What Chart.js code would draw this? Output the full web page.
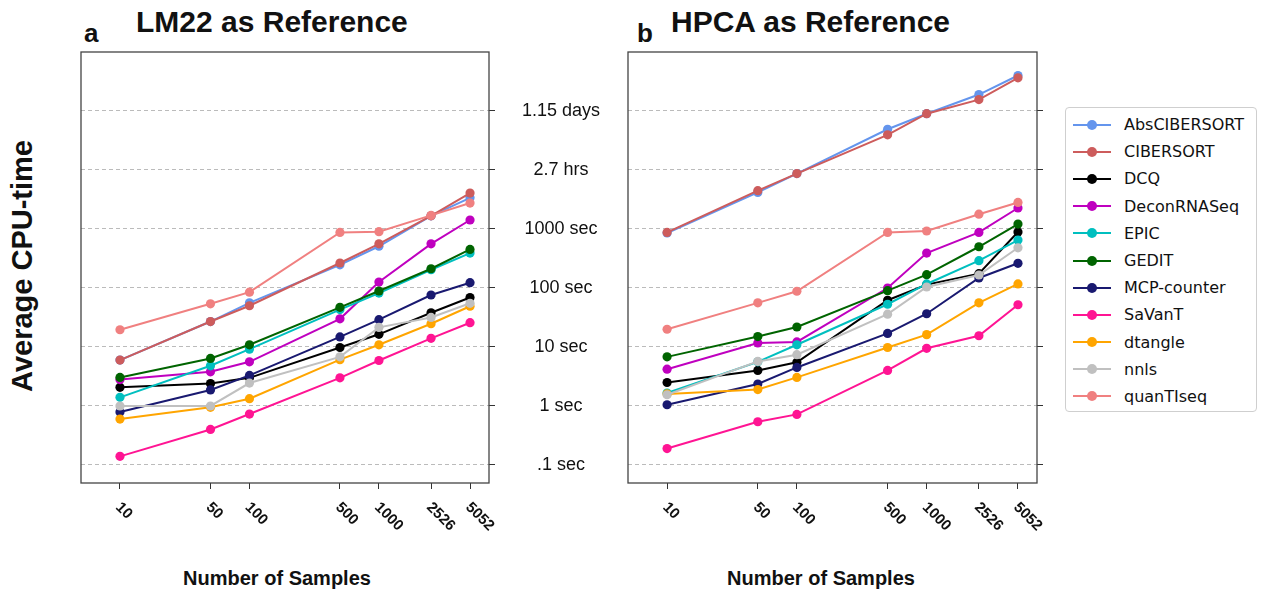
<!DOCTYPE html>
<html>
<head>
<meta charset="utf-8">
<script src="https://cdn.jsdelivr.net/npm/chart.js@4.4.1/dist/chart.umd.min.js"></script>
<style>
  body { margin: 0; width: 1267px; height: 590px; position: relative; background: #fff; overflow: hidden; font-family: "Liberation Sans", Arial, sans-serif; color: #111; }
  .abs { position: absolute; white-space: nowrap; }
  .panel { font-weight: bold; font-size: 26px; line-height: 26px; }
  .title { font-weight: bold; font-size: 30px; line-height: 30px; }
  .xtitle { font-weight: bold; font-size: 20px; line-height: 20px; transform: translateX(-50%); }
  .ytitle { font-weight: bold; font-size: 29px; line-height: 29px; transform: translate(-50%, -50%) rotate(-90deg); }
  canvas { position: absolute; }
  #legend { position: absolute; left: 1065px; top: 107px; width: 190px; height: 297px; padding: 3px 0; border: 1px solid #cfcfcf; border-radius: 4px; font-family: "DejaVu Sans", sans-serif; font-size: 16px; }
  .row { position: relative; height: 27.2px; line-height: 27.2px; }
  .row .ln { position: absolute; left: 7px; width: 38px; top: 12.6px; height: 2px; }
  .row .dot { position: absolute; left: 21px; top: 8.6px; width: 10px; height: 10px; border-radius: 50%; }
  .row .tx { position: absolute; left: 58px; }
</style>
</head>
<body>
<div class="abs panel" style="left:84px; top:20px;">a</div>
<div class="abs title" style="left:136px; top:7px;">LM22 as Reference</div>
<div class="abs panel" style="left:637px; top:20px;">b</div>
<div class="abs title" style="left:671px; top:7px;">HPCA as Reference</div>
<div class="abs ytitle" style="left:22px; top:266px;">Average CPU-time</div>
<div class="abs xtitle" style="left:277px; top:568px;">Number of Samples</div>
<div class="abs xtitle" style="left:821px; top:568px;">Number of Samples</div>
<canvas id="chartA" width="570" height="548" style="left:71px; top:42px;"></canvas>
<canvas id="chartB" width="440" height="548" style="left:618px; top:42px;"></canvas>
<div id="legend"></div>

<script>
const samples = [10, 50, 100, 500, 1000, 2526, 5052];
const yTickVals = [0.1, 1, 10, 100, 1000, 10000, 100000];
const yTickLabels = ['.1 sec', '1 sec', '10 sec', '100 sec', '1000 sec', '2.7 hrs', '1.15 days'];

const methods = ['AbsCIBERSORT', 'CIBERSORT', 'DCQ', 'DeconRNASeq', 'EPIC', 'GEDIT',
  'MCP-counter', 'SaVanT', 'dtangle', 'nnls', 'quanTIseq'];
const colors = ['#6495ED', '#CD5C5C', '#000000', '#BF00BF', '#00BFBF', '#006400',
  '#191970', '#FF1493', '#FFA500', '#C0C0C0', '#F08080'];

// seconds, LM22 reference
const lm22AbsCIBERSORT = [6, 27, 56, 247, 510, 1670, 3370];
const lm22CIBERSORT = [6, 27, 50, 265, 560, 1670, 4070];
const lm22DCQ = [2.07, 2.4, 3.0, 9.8, 16.4, 38, 69];
const lm22DeconRNASeq = [2.8, 3.8, 5.6, 30, 126, 560, 1420];
const lm22EPIC = [1.4, 4.8, 9.2, 43, 82, 204, 390];
const lm22GEDIT = [3.05, 6.4, 10.9, 47, 89, 212, 450];
const lm22MCPcounter = [0.79, 1.87, 3.3, 14.8, 29, 76, 123];
const lm22SaVanT = [0.14, 0.40, 0.73, 3.0, 5.9, 14, 25.8];
const lm22dtangle = [0.60, 0.95, 1.33, 6.1, 10.9, 24.8, 49];
const lm22nnls = [1.0, 1.0, 2.45, 6.8, 21.5, 31.7, 55];
const lm22quanTIseq = [19.6, 54, 85, 875, 900, 1700, 2750];

// seconds, HPCA reference
const hpcaAbsCIBERSORT = [855, 4170, 8700, 49000, 90000, 190000, 400000];
const hpcaCIBERSORT = [875, 4460, 8700, 39500, 90000, 156000, 365000];
const hpcaDCQ = [2.5, 4.0, 5.5, 62, 114, 175, 890];
const hpcaDeconRNASeq = [4.2, 11.7, 12.2, 100, 390, 875, 2270];
const hpcaEPIC = [1.66, 5.6, 10.9, 53, 117, 290, 650];
const hpcaGEDIT = [6.8, 15, 21.8, 90, 168, 500, 1210];
const hpcaMCPcounter = [1.05, 2.36, 4.5, 17, 36.6, 148, 262];
const hpcaSaVanT = [0.19, 0.54, 0.72, 4.0, 9.5, 15.5, 52];
const hpcadtangle = [1.6, 1.9, 3.05, 9.8, 16.2, 56, 117];
const hpcannls = [1.55, 5.7, 7.4, 36, 104, 166, 480];
const hpcaquanTIseq = [20, 56, 88, 875, 925, 1780, 2820];

const lm22Series = [lm22AbsCIBERSORT, lm22CIBERSORT, lm22DCQ, lm22DeconRNASeq, lm22EPIC, lm22GEDIT,
  lm22MCPcounter, lm22SaVanT, lm22dtangle, lm22nnls, lm22quanTIseq];
const hpcaSeries = [hpcaAbsCIBERSORT, hpcaCIBERSORT, hpcaDCQ, hpcaDeconRNASeq, hpcaEPIC, hpcaGEDIT,
  hpcaMCPcounter, hpcaSaVanT, hpcadtangle, hpcannls, hpcaquanTIseq];

// frame round the plot area
const framePlugin = {
  id: 'frame',
  afterDraw(chart) {
    const a = chart.chartArea, ctx = chart.ctx;
    ctx.save();
    ctx.strokeStyle = '#444';
    ctx.lineWidth = 1.3;
    ctx.strokeRect(a.left, a.top, a.right - a.left, a.bottom - a.top);
    ctx.restore();
  }
};

// x tick labels, rotated down to the right
const xLabelPlugin = {
  id: 'xlabels',
  afterDraw(chart) {
    const sx = chart.scales.x, ctx = chart.ctx;
    ctx.save();
    ctx.font = 'bold 15px "Liberation Sans", Arial, sans-serif';
    ctx.fillStyle = '#111';
    ctx.textAlign = 'left';
    ctx.textBaseline = 'middle';
    samples.forEach(s => {
      ctx.save();
      ctx.translate(sx.getPixelForValue(s) - 2, chart.chartArea.bottom + 22);
      ctx.rotate(Math.PI / 4);
      ctx.fillText(String(s), 0, 0);
      ctx.restore();
    });
    ctx.restore();
  }
};

function makePanel(id, series, yWidth, showLabels) {
  const datasets = series.map((vals, i) => ({
    label: methods[i],
    data: samples.map((s, j) => ({ x: s, y: vals[j] })),
    borderColor: colors[i],
    backgroundColor: colors[i],
    pointBackgroundColor: colors[i],
    pointBorderWidth: 0,
    pointRadius: 4.6,
    borderWidth: 2,
    tension: 0,
    order: methods.length - i
  }));
  return new Chart(document.getElementById(id), {
    type: 'line',
    data: { datasets },
    plugins: [framePlugin, xLabelPlugin],
    options: {
      responsive: false,
      animation: false,
      layout: { padding: { left: 10, top: 10, right: 0, bottom: 0 } },
      plugins: { legend: { display: false }, tooltip: { enabled: false } },
      scales: {
        x: {
          type: 'logarithmic',
          min: 5, max: 7080,
          afterBuildTicks: s => { s.ticks = samples.map(v => ({ value: v })); },
          afterFit: s => { s.height = 107; s.paddingLeft = 0; s.paddingRight = 0; },
          grid: { drawOnChartArea: false, drawTicks: true, tickLength: 6, tickColor: '#333', tickWidth: 1 },
          border: { display: false },
          ticks: { display: false, autoSkip: false }
        },
        y: {
          type: 'logarithmic',
          position: 'right',
          min: 0.0495, max: 1000000,
          afterBuildTicks: s => { s.ticks = yTickVals.map(v => ({ value: v })); },
          afterFit: s => { s.width = yWidth; s.paddingTop = 0; s.paddingBottom = 0; },
          grid: { color: '#bbbbbb', lineWidth: 1, drawTicks: true, tickLength: 6,
                  tickColor: '#333', tickWidth: 1, tickBorderDash: [] },
          border: { display: false, dash: [4, 3] },
          ticks: {
            display: showLabels,
            autoSkip: false,
            callback: (v, i) => yTickLabels[i],
            font: { family: '"Liberation Sans", Arial, sans-serif', size: 18 },
            color: '#111',
            crossAlign: 'center',
            padding: 27
          }
        }
      }
    }
  });
}

makePanel('chartA', lm22Series, 152, true);
makePanel('chartB', hpcaSeries, 21, false);

// legend
const legend = document.getElementById('legend');
methods.forEach((m, i) => {
  const row = document.createElement('div');
  row.className = 'row';
  row.innerHTML = `<span class="ln" style="background:${colors[i]}"></span>` +
    `<span class="dot" style="background:${colors[i]}"></span><span class="tx">${m}</span>`;
  legend.appendChild(row);
});
</script>
</body>
</html>
